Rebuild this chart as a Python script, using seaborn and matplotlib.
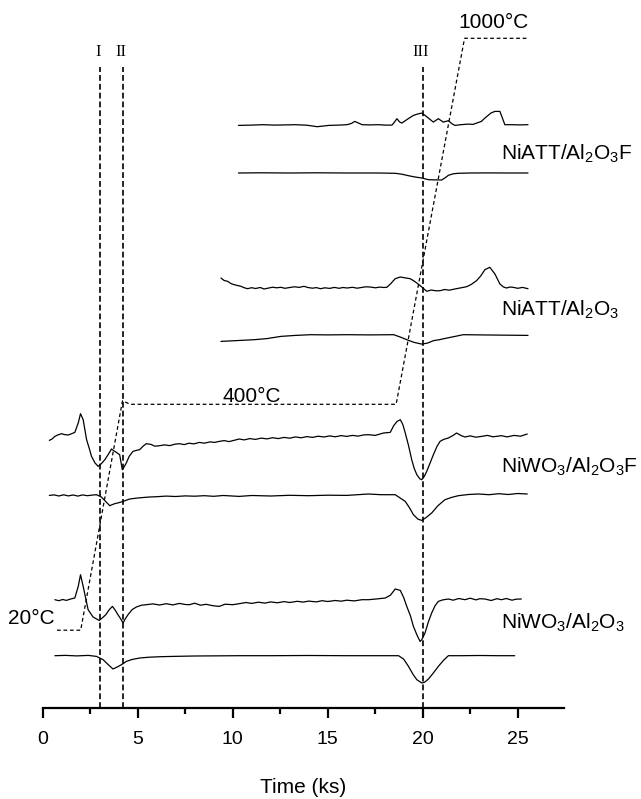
import matplotlib
matplotlib.use("Agg")
import matplotlib.pyplot as plt
from matplotlib.ticker import MultipleLocator
import numpy as np
import pandas as pd
import seaborn as sns

# ---------------- data: time (ks) and signal deflections ----------------
# NiATT/Al2O3F, upper (DTA) and lower (TG-derived) traces
t_attF_up = [10.30, 11.0, 11.56, 12.2, 12.8, 13.31, 13.9, 14.45, 15.06, 15.6, 16.02, 16.25,
             16.42, 16.6, 16.81, 17.2, 17.68, 18.0, 18.38, 18.5, 18.64, 18.78, 18.90, 19.08,
             19.3, 19.51, 19.75, 19.95, 20.12, 20.30, 20.56, 20.82, 21.08, 21.35, 21.55, 21.70,
             22.0, 22.40, 22.65, 22.83, 23.09, 23.25, 23.44, 23.60, 23.80, 24.06, 24.18, 24.32,
             24.7, 25.1, 25.54]
s_attF_up = [0, 0.3, 0.7, 0.3, 0.5, 0.7, 0.2, -1.3, 0, 0.3, 0.7, 2.0,
             4.0, 2.5, 0.7, 0.5, 0.7, 0.3, 0.3, 3.0, 6.7, 3.5, 2.3, 4.7,
             7.5, 10.0, 11.5, 12.3, 10.0, 7.3, 3.3, 6.7, 3.3, 4.7, 1.5, 0,
             0.7, 1.3, 1.0, 2.3, 4.0, 7.0, 10.0, 12.5, 14.0, 14.0, 8.0, 0.7,
             0.7, 0.5, 0.7]

t_attF_lo = [10.30, 11.5, 13.0, 14.5, 16.0, 17.68, 18.55, 18.9, 19.25, 19.6, 19.95, 20.30,
             20.7, 21.0, 21.2, 21.35, 21.6, 21.87, 22.5, 23.5, 24.5, 25.54]
s_attF_lo = [0, 0.2, 0, 0.2, 0, 0, -0.3, -1.2, -2.7, -4.0, -5.0, -6.7,
             -6.9, -7.0, -4.5, -2.3, -0.8, -0.3, 0, 0.1, 0, 0]

# NiATT/Al2O3
t_att_up = [9.38, 9.55, 9.73, 9.9, 10.08, 10.25, 10.43, 10.6, 10.78, 11.0, 11.2, 11.45,
            11.65, 11.9, 12.1, 12.3, 12.53, 12.75, 13.0, 13.25, 13.5, 13.75, 13.95, 14.2,
            14.4, 14.62, 14.85, 15.1, 15.35, 15.6, 15.8, 16.02, 16.3, 16.55, 16.8, 17.0,
            17.24, 17.5, 17.75, 17.95, 18.11, 18.3, 18.55, 18.82, 19.05, 19.34, 19.5, 19.69,
            19.95, 20.21, 20.45, 20.7, 20.91, 21.15, 21.4, 21.61, 21.85, 22.1, 22.31, 22.55,
            22.83, 23.05, 23.27, 23.53, 23.80, 24.06, 24.25, 24.41, 24.6, 24.75, 25.0, 25.25,
            25.54]
s_att_up = [10.0, 7.5, 6.7, 4.5, 3.3, 2.5, 1.7, 0.3, -0.7, 0.3, -0.5, 0.5,
            -1.0, 0, 0.8, 0.2, 0.7, -0.3, 0.5, 1.2, 0.6, 1.7, 0.5, -0.2,
            0.4, -0.7, 0.2, -0.4, 0.6, -0.3, 0.5, 0, 0.7, -0.2, 0.6, 1.2,
            1.0, 0.2, 0.9, 0.5, 0.7, 4.0, 9.3, 11.0, 10.2, 9.3, 7.5, 5.0,
            1.0, -3.3, -2.0, -2.8, -2.7, -1.5, -2.2, -1.3, -0.4, 0.5, 1.3, 3.5,
            7.3, 12.0, 18.3, 20.7, 14.0, 4.0, 1.0, 0, 1.0, 0.7, -0.3, 0.6,
            -0.7]

t_att_lo = [9.38, 10.2, 11.12, 11.8, 12.53, 13.3, 14.10, 15.0, 16.02, 17.2, 18.47, 18.8,
            19.16, 19.55, 19.95, 20.25, 20.56, 20.9, 21.26, 21.7, 22.13, 23.0, 24.0, 25.54]
s_att_lo = [0, 0.8, 1.7, 2.8, 5.0, 6.0, 6.7, 6.5, 6.7, 6.5, 6.7, 4.5,
            1.7, -1.0, -2.7, -1.7, 0.7, 1.8, 3.3, 5.0, 6.7, 6.5, 6.3, 6.0]

# NiWO3/Al2O3F
t_wo3F_up = [0.35, 0.5, 0.64, 0.8, 0.99, 1.15, 1.34, 1.5, 1.69, 1.87, 1.99, 2.13,
             2.31, 2.45, 2.57, 2.75, 2.92, 3.1, 3.27, 3.45, 3.62, 3.75, 3.88, 4.05,
             4.19, 4.30, 4.40, 4.55, 4.75, 4.92, 5.10, 5.3, 5.45, 5.7, 5.9, 6.15,
             6.4, 6.7, 6.95, 7.20, 7.45, 7.7, 7.95, 8.25, 8.5, 8.8, 9.05, 9.29,
             9.55, 9.8, 10.1, 10.34, 10.6, 10.9, 11.2, 11.5, 11.8, 12.1, 12.4, 12.7,
             13.0, 13.3, 13.6, 13.9, 14.2, 14.5, 14.8, 15.1, 15.4, 15.7, 16.0, 16.3,
             16.6, 16.9, 17.15, 17.5, 17.94, 18.29, 18.47, 18.65, 18.82, 18.95, 19.08, 19.25,
             19.42, 19.55, 19.69, 19.85, 19.95, 20.08, 20.21, 20.4, 20.56, 20.75, 20.91, 21.1,
             21.35, 21.6, 21.78, 22.0, 22.22, 22.5, 22.8, 23.09, 23.4, 23.7, 24.14, 24.45,
             24.8, 25.15, 25.50]
s_wo3F_up = [0, 1.5, 4.0, 5.5, 6.7, 5.8, 5.4, 6.5, 8.0, 17.4, 26.7, 20.7,
             0.7, -8.0, -16.0, -22.5, -26.0, -23.0, -19.3, -14.0, -8.6, -10.5, -12.0, -14.3,
             -29.3, -26.0, -22.6, -16.0, -11.0, -10.0, -9.3, -5.5, -3.3, -4.0, -5.8, -5.3,
             -4.5, -5.2, -3.8, -3.3, -4.2, -2.8, -3.5, -2.0, -2.8, -1.5, -2.0, -1.0,
             -0.2, -1.2, 0.2, 1.4, 0.5, 1.8, 1.0, 2.3, 1.5, 2.7, 1.8, 3.0,
             2.2, 3.5, 2.6, 3.8, 3.0, 4.2, 3.4, 4.5, 3.6, 4.8, 4.0, 5.0,
             4.3, 5.5, 5.7, 5.0, 7.4, 8.0, 14.7, 19.0, 20.7, 16.0, 7.4, -5.0,
             -19.3, -28.0, -34.3, -38.5, -39.3, -36.0, -31.0, -22.0, -14.3, -6.0, -1.0, 1.0,
             2.4, 5.0, 7.4, 5.0, 3.4, 4.5, 3.2, 4.0, 5.0, 3.6, 4.7, 3.5,
             5.0, 4.2, 6.4]

t_wo3F_lo = [0.35, 0.6, 0.85, 1.1, 1.35, 1.6, 1.85, 2.1, 2.35, 2.6, 2.83, 3.09,
             3.3, 3.53, 3.65, 3.79, 4.0, 4.23, 4.4, 4.58, 5.0, 5.3, 5.62, 6.0,
             6.5, 7.0, 7.5, 8.0, 8.5, 9.0, 9.5, 10.34, 11.0, 12.0, 13.0, 14.0,
             15.0, 16.0, 17.15, 17.8, 18.55, 19.08, 19.3, 19.51, 19.75, 19.95, 20.2, 20.47,
             20.8, 21.17, 21.5, 21.87, 22.4, 22.92, 23.5, 24.0, 24.5, 25.0, 25.50]
s_wo3F_lo = [0.3, 0.8, -0.3, 0.9, -0.2, 0.7, -0.4, 0.8, 0.0, 0.6, 1.0, -1.3,
             -5.5, -10.0, -9.0, -8.0, -7.0, -5.7, -4.5, -3.3, -2.3, -1.8, -1.3, -1.0,
             -0.4, -0.8, -0.2, -0.5, 0.0, -0.6, 0.2, -0.7, 0.2, -0.3, 0.4, 0,
             0.5, 0.3, 1.7, 1.0, 1.0, -5.7, -12.0, -19.0, -23.5, -24.7, -21.5, -17.3,
             -10.0, -4.0, -1.8, 0, 1.2, 1.7, 1.0, 2.0, 1.2, 2.2, 1.7]

# NiWO3/Al2O3
t_wo3_up = [0.64, 0.85, 1.05, 1.25, 1.45, 1.69, 1.87, 1.99, 2.13, 2.39, 2.65, 2.97,
            3.15, 3.32, 3.5, 3.67, 3.8, 3.96, 4.1, 4.23, 4.35, 4.49, 4.7, 4.93,
            5.2, 5.45, 5.8, 6.15, 6.50, 6.85, 7.2, 7.5, 7.72, 8.0, 8.3, 8.6,
            8.95, 9.29, 9.6, 10.0, 10.34, 10.7, 11.0, 11.35, 11.7, 12.0, 12.35, 12.7,
            13.0, 13.4, 13.7, 14.0, 14.4, 14.7, 15.0, 15.4, 15.7, 16.0, 16.4, 16.8,
            17.15, 17.6, 18.03, 18.3, 18.55, 18.82, 19.0, 19.16, 19.35, 19.51, 19.7, 19.86,
            19.95, 20.12, 20.3, 20.47, 20.65, 20.82, 21.05, 21.35, 21.6, 21.9, 22.22, 22.5,
            22.8, 23.0, 23.27, 23.6, 23.9, 24.14, 24.4, 24.7, 24.9, 25.19]
s_wo3_up = [4.0, 3.0, 4.2, 3.3, 4.6, 5.7, 17.3, 29.0, 17.3, -6.0, -13.3, -16.7,
            -14.0, -11.0, -6.0, -2.7, -6.0, -11.0, -15.0, -19.3, -15.0, -11.0, -6.0, -3.3,
            -1.5, -1.0, -0.2, -1.3, 0, -1.2, 0.3, -0.8, -1.0, 0.5, -1.5, -0.6,
            -2.0, -2.7, -0.5, -1.0, 0, 1.2, 0.3, 1.5, 0.6, 1.8, 0.9, 2.1,
            1.2, 2.4, 1.6, 2.6, 1.8, 3.0, 2.2, 3.2, 2.5, 3.5, 2.8, 4.0,
            4.0, 4.8, 5.7, 8.5, 14.7, 13.3, 6.0, -2.7, -12.0, -22.7, -31.5, -37.7,
            -36.0, -29.3, -18.0, -9.3, -2.0, 2.3, 3.8, 4.7, 3.5, 5.2, 4.0, 5.5,
            3.8, 5.0, 4.7, 3.2, 5.0, 4.0, 5.2, 3.5, 4.5, 4.7]

t_wo3_lo = [0.64, 1.2, 1.8, 2.4, 2.83, 3.18, 3.45, 3.70, 3.9, 4.05, 4.23, 4.40,
            4.7, 5.10, 5.6, 6.2, 6.85, 8.0, 10.34, 12.0, 14.0, 16.0, 17.15, 18.73,
            19.0, 19.25, 19.5, 19.69, 19.95, 20.10, 20.30, 20.55, 20.82, 21.1, 21.35, 22.0,
            23.0, 24.0, 24.84]
s_wo3_lo = [0, 0.3, -0.2, 0.3, -0.7, -4.0, -9.0, -13.3, -11.5, -10.0, -8.0, -5.7,
            -3.8, -2.3, -1.5, -1.0, -0.7, -0.3, 0, 0, 0.2, 0, 0, 0,
            -3.5, -10.7, -19.0, -24.0, -27.3, -26.5, -23.3, -17.5, -10.7, -4.5, 0, 0,
            0.2, 0, 0]

# heating programme (°C)
t_temp = [0.75, 2.0, 4.2, 4.6, 18.6, 22.2, 25.6]
temp_c = [20, 20, 400, 394, 394, 1000, 1000]

# events marked by vertical lines
event_times = [3.03, 4.24, 20.0]
event_names = ["I", "II", "III"]

sample_names = ["NiATT/Al$_2$O$_3$F", "NiATT/Al$_2$O$_3$",
                "NiWO$_3$/Al$_2$O$_3$F", "NiWO$_3$/Al$_2$O$_3$"]

# ---------------- layout ----------------
# vertical stacking offset of each trace
traces = [
    (t_attF_up, s_attF_up, 582.3),
    (t_attF_lo, s_attF_lo, 534.7),
    (t_att_up, s_att_up, 419.7),
    (t_att_lo, s_att_lo, 366.3),
    (t_wo3F_up, s_wo3F_up, 267.3),
    (t_wo3F_lo, s_wo3F_lo, 212.0),
    (t_wo3_up, s_wo3_up, 104.0),
    (t_wo3_lo, s_wo3_lo, 52.0),
]
label_y = [554, 398, 241, 85]
Y_TOP = 707.7

sns.set_theme(style="white")
plt.rcParams["font.family"] = ["Liberation Sans", "DejaVu Sans"]
plt.rcParams["mathtext.fontset"] = "custom"
plt.rcParams["mathtext.rm"] = "Liberation Sans"
plt.rcParams["mathtext.it"] = "Liberation Sans:italic"
plt.rcParams["mathtext.bf"] = "Liberation Sans:bold"
plt.rcParams["text.color"] = "black"
plt.rcParams["axes.labelcolor"] = "black"
plt.rcParams["xtick.color"] = "black"
plt.rcParams["xtick.labelcolor"] = "black"

fig = plt.figure(figsize=(6.41, 7.99), dpi=100)
ax = fig.add_axes([42.7 / 641, (799 - 707.7) / 799, (564.3 - 42.7) / 641, 707.7 / 799])
ax.set_xlim(0, 27.45)
ax.set_ylim(0, Y_TOP)

for t, s, off in traces:
    df = pd.DataFrame({"time": t, "signal": np.asarray(s) + off})
    sns.lineplot(data=df, x="time", y="signal", ax=ax, color="black",
                 linewidth=0.9, estimator=None, sort=False)

# vertical event markers
for te, name in zip(event_times, event_names):
    ax.axvline(te, ymin=0, ymax=(Y_TOP - 67) / Y_TOP, color="black",
               linewidth=1.2, linestyle=(0, (3.5, 1.8)))
    ax.text(te - 0.12, Y_TOP - 52, name, ha="center", va="center",
            fontsize=12, family="Liberation Serif", color="black")

# temperature programme on a hidden second scale
ax2 = ax.twinx()
ax2.set_ylim(-108.3, 1063.4)
tdf = pd.DataFrame({"time": t_temp, "temp": temp_c})
sns.lineplot(data=tdf, x="time", y="temp", ax=ax2, color="black",
             linewidth=0.9, linestyle=(0, (3, 2.2)), estimator=None, sort=False)
ax2.set_axis_off()

ax2.text(21.88, 1026, "1000°C", fontsize=15, ha="left", va="center", color="black")
ax2.text(9.45, 407, "400°C", fontsize=15, ha="left", va="center", color="black")
ax2.text(-1.82, 40, "20°C", fontsize=15, ha="left", va="center", clip_on=False,
         color="black")

for name, yl in zip(sample_names, label_y):
    ax.text(24.1, yl, name, fontsize=15, ha="left", va="center", color="black")

# axes styling: only the time axis is drawn
for side in ["left", "top", "right"]:
    ax.spines[side].set_visible(False)
ax.spines["bottom"].set_linewidth(1.6)
ax.spines["bottom"].set_color("black")
ax.set_yticks([])
ax.set_ylabel("")
ax.xaxis.set_major_locator(MultipleLocator(5))
ax.xaxis.set_minor_locator(MultipleLocator(2.5))
ax.tick_params(axis="x", which="major", direction="out", length=7.5, width=1.6,
               labelsize=14, pad=9, color="black", labelcolor="black", bottom=True)
ax.tick_params(axis="x", which="minor", direction="out", length=4, width=1.6,
               color="black", bottom=True)
ax.set_xlabel("Time (ks)", fontsize=15, labelpad=22, color="black")

fig.savefig("out.png", dpi=100)
